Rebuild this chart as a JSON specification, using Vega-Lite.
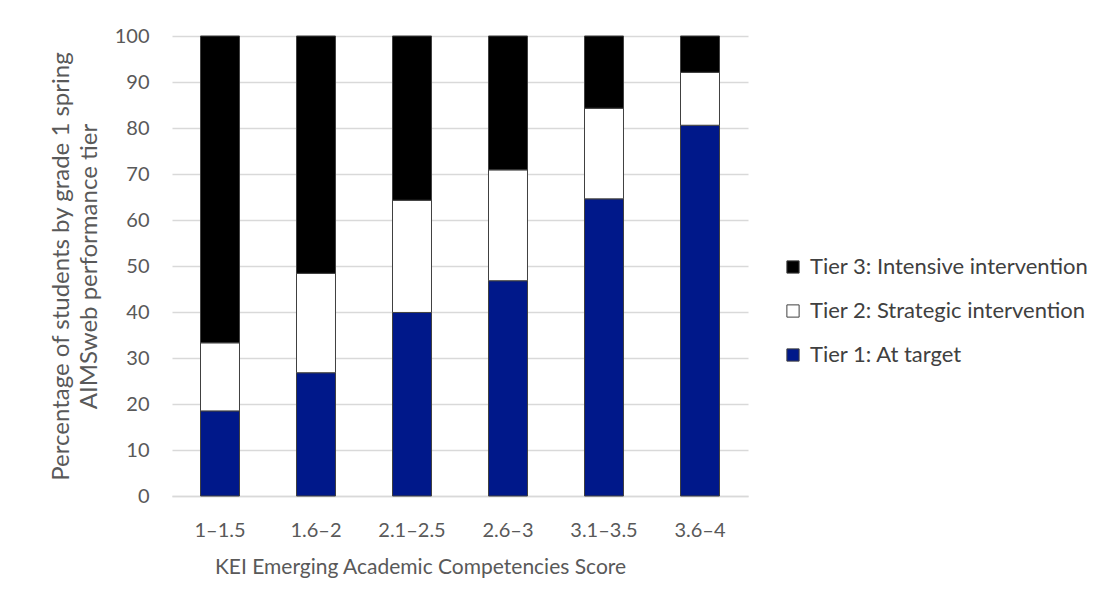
{
  "$schema": "https://vega.github.io/schema/vega-lite/v6.json",
  "width": 576,
  "height": 460,
  "autosize": {"type": "none"},
  "padding": {"left": 172, "top": 36, "right": 362, "bottom": 112},
  "background": "white",
  "config": {
    "font": "Lato",
    "view": {"stroke": null},
    "axis": {"labelColor": "#595959", "titleColor": "#595959", "labelFont": "Lato", "titleFont": "Lato", "titleFontWeight": "normal"},
    "legend": {"labelFont": "Lato", "labelColor": "#404040"}
  },
  "data": {
    "values": [
      {"score": "1–1.5", "tier": "Tier 1: At target", "order": 1, "pct": 18.5},
      {"score": "1–1.5", "tier": "Tier 2: Strategic intervention", "order": 2, "pct": 14.8},
      {"score": "1–1.5", "tier": "Tier 3: Intensive intervention", "order": 3, "pct": 66.7},
      {"score": "1.6–2", "tier": "Tier 1: At target", "order": 1, "pct": 26.8},
      {"score": "1.6–2", "tier": "Tier 2: Strategic intervention", "order": 2, "pct": 21.6},
      {"score": "1.6–2", "tier": "Tier 3: Intensive intervention", "order": 3, "pct": 51.6},
      {"score": "2.1–2.5", "tier": "Tier 1: At target", "order": 1, "pct": 39.9},
      {"score": "2.1–2.5", "tier": "Tier 2: Strategic intervention", "order": 2, "pct": 24.4},
      {"score": "2.1–2.5", "tier": "Tier 3: Intensive intervention", "order": 3, "pct": 35.7},
      {"score": "2.6–3", "tier": "Tier 1: At target", "order": 1, "pct": 46.8},
      {"score": "2.6–3", "tier": "Tier 2: Strategic intervention", "order": 2, "pct": 24.1},
      {"score": "2.6–3", "tier": "Tier 3: Intensive intervention", "order": 3, "pct": 29.1},
      {"score": "3.1–3.5", "tier": "Tier 1: At target", "order": 1, "pct": 64.6},
      {"score": "3.1–3.5", "tier": "Tier 2: Strategic intervention", "order": 2, "pct": 19.7},
      {"score": "3.1–3.5", "tier": "Tier 3: Intensive intervention", "order": 3, "pct": 15.7},
      {"score": "3.6–4", "tier": "Tier 1: At target", "order": 1, "pct": 80.6},
      {"score": "3.6–4", "tier": "Tier 2: Strategic intervention", "order": 2, "pct": 11.5},
      {"score": "3.6–4", "tier": "Tier 3: Intensive intervention", "order": 3, "pct": 7.9}
    ]
  },
  "mark": {"type": "bar", "stroke": "#404040", "strokeWidth": 1},
  "encoding": {
    "x": {
      "field": "score",
      "type": "nominal",
      "sort": null,
      "scale": {"paddingInner": 0.594, "paddingOuter": 0.297},
      "axis": {
        "title": "KEI Emerging Academic Competencies Score",
        "titleX": 248,
        "labelAngle": 0,
        "labelFontSize": 20,
        "labelPadding": 24,
        "titleFontSize": 21,
        "titlePadding": 16,
        "ticks": false,
        "domainColor": "#d9d9d9",
        "domainWidth": 1.5
      }
    },
    "y": {
      "field": "pct",
      "type": "quantitative",
      "stack": "zero",
      "scale": {"domain": [0, 100], "nice": false},
      "axis": {
        "title": ["Percentage of students by grade 1 spring", "AIMSweb performance tier"],
        "values": [0, 10, 20, 30, 40, 50, 60, 70, 80, 90, 100],
        "labelFontSize": 20,
        "labelPadding": 23,
        "titleFontSize": 24,
        "titleLineHeight": 28,
        "titlePadding": 13,
        "ticks": false,
        "domain": false,
        "gridColor": "#d9d9d9",
        "gridWidth": 1.5
      }
    },
    "order": {"field": "order", "type": "quantitative"},
    "color": {
      "field": "tier",
      "type": "nominal",
      "scale": {
        "domain": ["Tier 3: Intensive intervention", "Tier 2: Strategic intervention", "Tier 1: At target"],
        "range": ["#000000", "#ffffff", "#00188a"]
      },
      "legend": {
        "title": null,
        "orient": "none",
        "legendX": 610,
        "legendY": 220,
        "labelFontSize": 22,
        "symbolType": "square",
        "symbolSize": 150,
        "symbolStrokeColor": "#404040",
        "symbolStrokeWidth": 1,
        "symbolOpacity": 1,
        "rowPadding": 22,
        "labelOffset": 6,
        "labelLimit": 400
      }
    }
  }
}
